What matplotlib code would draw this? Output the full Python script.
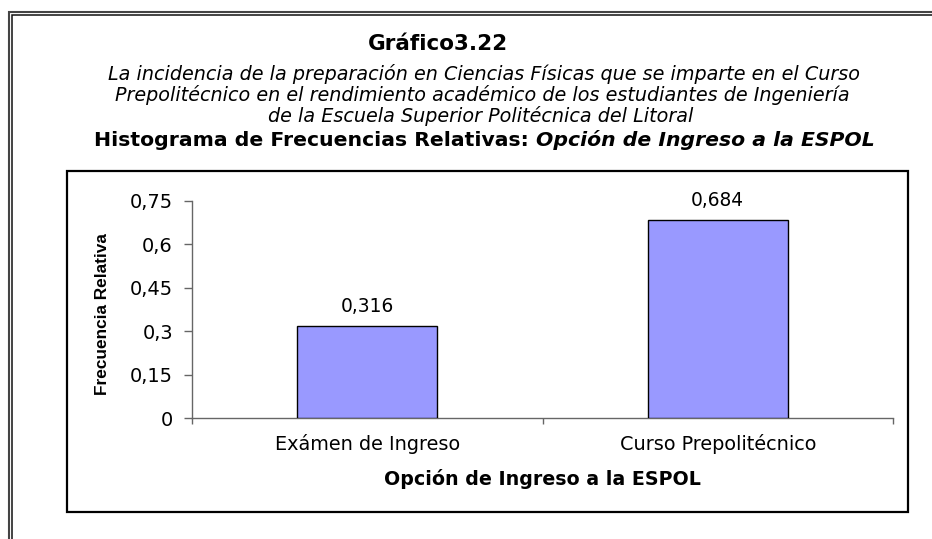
import matplotlib
matplotlib.use("Agg")
import matplotlib.pyplot as plt
from matplotlib.ticker import FuncFormatter
from matplotlib.patches import Rectangle

# ---------------- data ----------------
categories = ["Exámen de Ingreso", "Curso Prepolitécnico"]
values = [0.316, 0.684]
yticks = [0, 0.15, 0.3, 0.45, 0.6, 0.75]

title = "Gráfico3.22"
subtitle_lines = [
    "La incidencia de la preparación en Ciencias Físicas que se imparte en el Curso",
    "Prepolitécnico en el rendimiento académico de los estudiantes de Ingeniería",
    "de la Escuela Superior Politécnica del Litoral",
]
heading_bold = "Histograma de Frecuencias Relativas: "
heading_italic = "Opción de Ingreso a la ESPOL"
xlabel = "Opción de Ingreso a la ESPOL"
ylabel = "Frecuencia Relativa"

# ---------------- figure ----------------
W, H = 932, 539
fig = plt.figure(figsize=(W / 100, H / 100), dpi=100)
fig.patch.set_facecolor("white")
renderer = fig.canvas.get_renderer()


def fx(x):
    return x / W


def fy(y):
    return 1 - y / H


def text_width(text, size=10, **kw):
    t = fig.text(0, 0, text, fontsize=size, **kw)
    w = t.get_window_extent(renderer).width
    t.remove()
    return w


def fit_size(text, target_w, factor=1.0, **kw):
    return 10 * target_w / text_width(text, 10, **kw) * factor


def comma(v, pos=None):
    s = f"{v:g}"
    return s.replace(".", ",")


# ---------------- outer double frame ----------------
fig.add_artist(Rectangle((fx(9), fy(600)), fx(1000), 600 / H - 11.8 / H + 0.0,
                         transform=fig.transFigure, fill=False, lw=1.5,
                         ec="#444444", clip_on=False))
fig.add_artist(Rectangle((fx(11.8), fy(600)), fx(1000), 600 / H - 14.8 / H,
                         transform=fig.transFigure, fill=False, lw=1.1,
                         ec="#111111", clip_on=False))

# ---------------- titles ----------------
fig.text(fx(438), fy(50), title, ha="center", va="baseline",
         fontweight="bold", fontsize=fit_size(title, 140, fontweight="bold"))

sub_size = fit_size(subtitle_lines[0], 747, style="italic")
sub_pos = [(483.5, 80), (482, 101), (480.5, 122)]
for line, (x, y) in zip(subtitle_lines, sub_pos):
    fig.text(fx(x), fy(y), line, ha="center", va="baseline",
             style="italic", fontsize=sub_size)

hw1 = text_width(heading_bold, 10, fontweight="bold")
hw2 = text_width(heading_italic, 10, fontweight="bold", style="italic")
hsize = 10 * 781 / (hw1 + hw2)
x0 = 94
fig.text(fx(x0), fy(146.5), heading_bold, ha="left", va="baseline",
         fontweight="bold", fontsize=hsize)
fig.text(fx(x0 + hw1 * hsize / 10), fy(146.5), heading_italic, ha="left",
         va="baseline", fontweight="bold", style="italic", fontsize=hsize)

# ---------------- chart area box ----------------
fig.add_artist(Rectangle((fx(67), fy(512)), (908 - 67) / W, (512 - 171) / H,
                         transform=fig.transFigure, fill=False, lw=1.6,
                         ec="black"))

# ---------------- axes ----------------
ax_left, ax_right, ax_bottom, ax_top = 192, 893, 418, 200.7
ax = fig.add_axes([fx(ax_left), fy(ax_bottom), (ax_right - ax_left) / W,
                   (ax_bottom - ax_top) / H])
ax.set_facecolor("white")

xpos = list(range(len(categories)))
bars = ax.bar(xpos, values, width=0.4, color="#9999FF",
              edgecolor="black", linewidth=1.0, zorder=3)
ax.set_xlim(-0.5, len(categories) - 0.5)
ax.set_ylim(0, 0.75)

for s in ["top", "right"]:
    ax.spines[s].set_visible(False)
for s in ["left", "bottom"]:
    ax.spines[s].set_color("#666666")
    ax.spines[s].set_linewidth(1.0)

tick_size = fit_size("0,75", 45, factor=0.95)
ax.set_yticks(yticks)
ax.yaxis.set_major_formatter(FuncFormatter(comma))
ax.tick_params(axis="y", length=8 * 0.72, width=1, color="#666666",
               pad=8, labelsize=tick_size, labelcolor="black")

cat_size = (fit_size(categories[0], 193) + fit_size(categories[1], 210)) / 2 * 0.95
ax.set_xticks(xpos)
ax.set_xticklabels(categories, fontsize=cat_size)
ax.set_xticks([-0.5 + i for i in range(len(categories) + 1)], minor=True)
ax.tick_params(axis="x", which="major", length=0, pad=32 * 0.72)
ax.tick_params(axis="x", which="minor", length=6 * 0.72, width=1,
               color="#666666", direction="out")
for lab in ax.get_xticklabels():
    lab.set_verticalalignment("baseline")

lab_size = fit_size("0,684", 56, factor=0.95)
texts = ax.bar_label(bars, labels=[f"{v:.3f}".replace(".", ",") for v in values],
                     padding=14 * 0.72, fontsize=lab_size)
for t in texts:
    t.set_verticalalignment("baseline")

xl_size = fit_size(xlabel, 334, factor=0.95, fontweight="bold")
ax.set_xlabel(xlabel, fontweight="bold", fontsize=xl_size, va="baseline")
ax.xaxis.set_label_coords(0.5, -(485 - ax_bottom) / (ax_bottom - ax_top))

yl_size = fit_size(ylabel, 162, family="Liberation Sans", fontweight="bold")
ax.set_ylabel(ylabel, fontweight="bold", fontsize=yl_size,
              family="Liberation Sans", va="center", ha="center")
ax.yaxis.set_label_coords((103 - ax_left) / (ax_right - ax_left),
                          (ax_bottom - 314) / (ax_bottom - ax_top))

fig.savefig("out.png", dpi=100, facecolor="white")
